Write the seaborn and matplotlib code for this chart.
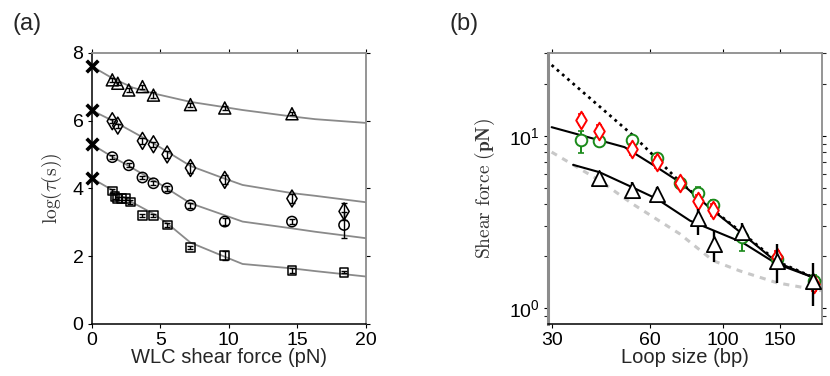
import numpy as np
import pandas as pd
import matplotlib
matplotlib.use("Agg")
import matplotlib.pyplot as plt
import seaborn as sns
from matplotlib.ticker import LogLocator, FixedLocator, NullFormatter, FixedFormatter, NullLocator

# ---------------- Panel (a) data ----------------
x0_y = [7.6, 6.3, 5.3, 4.3]

tri_x = [1.5, 1.9, 2.7, 3.7, 4.5, 7.2, 9.7, 14.6]
tri_y = [7.2, 7.1, 6.9, 7.0, 6.75, 6.47, 6.37, 6.2]
tri_e = [0.05, 0.05, 0.05, 0.06, 0.1, 0.06, 0.06, 0.05]

dia_x = [1.5, 1.9, 3.7, 4.5, 5.5, 7.2, 9.7, 14.6, 18.4]
dia_y = [5.98, 5.85, 5.4, 5.3, 5.0, 4.6, 4.25, 3.7, 3.32]
dia_e = [0.06, 0.06, 0.08, 0.08, 0.1, 0.15, 0.13, 0.13, 0.25]

cir_x = [1.5, 2.7, 3.7, 4.5, 5.5, 7.2, 9.7, 14.6, 18.4]
cir_y = [4.92, 4.68, 4.32, 4.15, 4.0, 3.5, 3.02, 3.02, 2.92]
cir_e = [0.05, 0.06, 0.05, 0.06, 0.07, 0.07, 0.1, 0.07, 0.37]

sq_x = [1.5, 1.7, 1.9, 2.2, 2.5, 2.8, 3.7, 4.5, 5.5, 7.2, 9.7, 14.6, 18.4]
sq_y = [3.92, 3.75, 3.7, 3.7, 3.7, 3.6, 3.2, 3.2, 2.92, 2.25, 2.02, 1.57, 1.52]
sq_e = [0.07, 0.07, 0.05, 0.05, 0.05, 0.05, 0.03, 0.04, 0.05, 0.05, 0.12, 0.07, 0.03]

tri_fit_x = [0, 1.5, 3, 4.5, 7.2, 9.6, 11, 14.6, 16.3, 20]
tri_fit_y = [7.6, 7.25, 6.97, 6.8, 6.55, 6.4, 6.31, 6.12, 6.04, 5.93]
dia_fit_x = [0, 1.5, 4.5, 7.2, 9.6, 11, 14.6, 16.3, 20]
dia_fit_y = [6.3, 6.0, 5.33, 4.66, 4.3, 4.1, 3.86, 3.78, 3.59]
cir_fit_x = [0, 1.5, 2.7, 5, 7.2, 9.6, 11, 14.6, 16.3, 20]
cir_fit_y = [5.3, 4.93, 4.66, 4.12, 3.56, 3.22, 3.02, 2.82, 2.72, 2.53]
sq_fit_x = [0, 1.5, 2.8, 4.5, 5.5, 7.2, 9.6, 11, 14.6, 16.3, 20]
sq_fit_y = [4.3, 3.95, 3.62, 3.25, 2.97, 2.4, 2.0, 1.77, 1.64, 1.56, 1.40]

a_xticks = [0, 5, 10, 15, 20]
a_yticks = [0, 2, 4, 6, 8]

# ---------------- Panel (b) data ----------------
g_x = [37.0, 41.8, 53.0, 62.9, 74.0, 84.0, 93.6, 115.0, 147.0, 190.0]
g_y = [9.48, 9.30, 9.38, 7.41, 5.30, 4.66, 3.94, 2.57, 1.92, 1.43]
g_lo = [1.6, 0.3, 0.3, 0.3, 0.3, 0.35, 0.3, 0.42, 0.15, 0.12]
g_hi = [1.1, 0.3, 0.3, 0.3, 0.3, 0.35, 0.3, 0.25, 0.15, 0.12]

r_x = [37.0, 41.8, 53.0, 62.9, 74.0, 84.0, 93.6, 147.0, 190.0]
r_y = [12.4, 10.7, 8.32, 7.02, 5.30, 4.20, 3.72, 1.98, 1.37]
r_e = [0.9, 0.8, 0.6, 0.5, 0.3, 0.3, 0.3, 0.15, 0.12]

t_x = [42.0, 52.9, 62.9, 84.3, 94.0, 115.0, 146.6, 189.7]
t_y = [5.66, 4.85, 4.59, 3.31, 2.35, 2.75, 1.88, 1.44]
t_lo = [0.53, 0.46, 0.49, 0.66, 0.49, 0.30, 0.48, 0.41]
t_hi = [0.49, 0.52, 0.43, 0.45, 0.46, 0.35, 0.47, 0.38]

dot_x = [30, 53.3, 62.9, 74, 93.6, 115, 147, 200]
dot_y = [25.7, 10.0, 7.35, 5.4, 3.7, 2.72, 1.86, 1.44]
up_x = [30, 50.1, 62.9, 74, 93.6, 115, 146.6, 190, 200]
up_y = [11.2, 8.58, 6.56, 5.37, 3.67, 2.69, 1.84, 1.50, 1.44]
lo_x = [34.9, 42, 52.9, 62.9, 79.5, 115, 146.6, 190, 200]
lo_y = [6.77, 6.14, 5.02, 4.30, 3.21, 2.40, 1.80, 1.50, 1.44]
gr_x = [30, 42, 53, 74, 93.6, 113, 146.6, 200]
gr_y = [8.03, 5.5, 4.02, 2.69, 1.88, 1.64, 1.40, 1.26]

b_xticks = [30, 60, 100, 150]

# ---------------- Style ----------------
sns.set_style("ticks")
plt.rcParams["font.family"] = ["Liberation Sans", "DejaVu Sans"]
plt.rcParams["mathtext.fontset"] = "cm"
plt.rcParams["xtick.labelsize"] = 14
plt.rcParams["ytick.labelsize"] = 14
plt.rcParams["xtick.direction"] = "out"
plt.rcParams["ytick.direction"] = "out"

fig = plt.figure(figsize=(8.3, 3.76), dpi=100)
axa = fig.add_axes([0.1105, 0.1383, 0.3305, 0.7215])
axb = fig.add_axes([0.660, 0.1383, 0.330, 0.7215])

GRAY_LINE = "#8a8a8a"

# ---- Panel (a) ----
for fx, fy in [(tri_fit_x, tri_fit_y), (dia_fit_x, dia_fit_y),
               (cir_fit_x, cir_fit_y), (sq_fit_x, sq_fit_y)]:
    sns.lineplot(x=fx, y=fy, ax=axa, color=GRAY_LINE, lw=1.3,
                 sort=False, estimator=None, zorder=1)

sns.scatterplot(x=[0.0] * len(x0_y), y=x0_y, ax=axa, marker="x", s=70,
                color="black", linewidth=2.6, zorder=4, clip_on=False)

series_a = [
    (tri_x, tri_y, tri_e, "^", 75),
    (dia_x, dia_y, dia_e, "d", 75),
    (cir_x, cir_y, cir_e, "o", 55),
    (sq_x, sq_y, sq_e, "s", 40),
]
for xs, ys, es, m, s in series_a:
    sns.scatterplot(x=xs, y=ys, ax=axa, marker=m, s=s, facecolor="none",
                    edgecolor="black", linewidth=1.1, zorder=3)
    axa.errorbar(xs, ys, yerr=es, fmt="none", ecolor="black", elinewidth=1.0,
                 capsize=2, capthick=1.0, zorder=4)

axa.set_xlim(0, 20)
axa.set_ylim(0, 8)
axa.set_xticks(a_xticks)
axa.set_yticks(a_yticks)
axa.tick_params(axis="both", which="major", length=3, width=0.8, pad=3,
                top=True, right=True, colors="black")
axa.tick_params(axis="x", labeltop=False)
axa.tick_params(axis="y", labelright=False)
axa.set_xlabel("WLC shear force (pN)", fontsize=14.5, labelpad=-1)
axa.set_ylabel(r"$\log(\tau(\mathrm{s}))$", fontsize=14, color="#333333", labelpad=6)
for side in ["left", "bottom"]:
    axa.spines[side].set_color("black")
    axa.spines[side].set_linewidth(1.1)
for side in ["top", "right"]:
    axa.spines[side].set_color("#8c8c8c")
    axa.spines[side].set_linewidth(1.3)
    axa.spines[side].set_visible(True)

# ---- Panel (b) ----
axb.set_xscale("log")
axb.set_yscale("log")

sns.lineplot(x=gr_x, y=gr_y, ax=axb, color="#c8c8c8", lw=2.2,
             linestyle=(0, (2, 2)), sort=False, estimator=None, zorder=1)
sns.lineplot(x=dot_x, y=dot_y, ax=axb, color="black", lw=2.0,
             linestyle=(0, (1, 1.5)), sort=False, estimator=None, zorder=2)
sns.lineplot(x=up_x, y=up_y, ax=axb, color="black", lw=1.5,
             sort=False, estimator=None, zorder=2)
sns.lineplot(x=lo_x, y=lo_y, ax=axb, color="black", lw=1.5,
             sort=False, estimator=None, zorder=2)

axb.errorbar(g_x, g_y, yerr=[g_lo, g_hi], fmt="none", ecolor="#1a8a1a",
             elinewidth=1.4, capsize=2, capthick=1.2, zorder=3)
sns.scatterplot(x=g_x, y=g_y, ax=axb, marker="o", s=70, facecolor="white",
                edgecolor="#1a8a1a", linewidth=1.4, zorder=4)
axb.errorbar(r_x, r_y, yerr=r_e, fmt="none", ecolor="#ff0000",
             elinewidth=1.4, capsize=2, capthick=1.2, zorder=5)
sns.scatterplot(x=r_x, y=r_y, ax=axb, marker="d", s=80, facecolor="white",
                edgecolor="#ff0000", linewidth=1.4, zorder=6)
axb.errorbar(t_x, t_y, yerr=[t_lo, t_hi], fmt="none", ecolor="black",
             elinewidth=1.7, capsize=0, zorder=7)
sns.scatterplot(x=t_x, y=t_y, ax=axb, marker="^", s=120, facecolor="white",
                edgecolor="black", linewidth=1.3, zorder=8)

axb.set_xlim(29.2, 201)
axb.set_ylim(0.807, 30.3)
axb.xaxis.set_major_locator(FixedLocator(b_xticks))
axb.xaxis.set_major_formatter(FixedFormatter([str(v) for v in b_xticks]))
axb.xaxis.set_minor_locator(NullLocator())
axb.yaxis.set_major_locator(LogLocator(base=10, numticks=10))
axb.yaxis.set_minor_locator(LogLocator(base=10, subs=np.arange(2, 10), numticks=20))
axb.yaxis.set_minor_formatter(NullFormatter())
axb.tick_params(axis="both", which="major", length=3, width=0.8, pad=3,
                top=True, right=True, colors="black")
axb.tick_params(axis="y", which="minor", length=3, width=0.8, left=True, right=True)
axb.tick_params(axis="x", labeltop=False)
axb.tick_params(axis="y", labelright=False)
axb.set_xlabel("Loop size (bp)", fontsize=14.5, labelpad=-1)
axb.set_ylabel(r"$\mathrm{Shear\ force\ }(\mathbf{pN})$", fontsize=14,
               color="#333333", labelpad=8)
axb.spines["left"].set_color("#8c8c8c")
axb.spines["left"].set_linewidth(2.2)
axb.spines["bottom"].set_color("black")
axb.spines["bottom"].set_linewidth(1.1)
for side in ["top", "right"]:
    axb.spines[side].set_color("#8c8c8c")
    axb.spines[side].set_linewidth(1.3)
    axb.spines[side].set_visible(True)

fig.text(0.015, 0.935, "(a)", fontsize=17, ha="left", va="center")
fig.text(0.542, 0.935, "(b)", fontsize=17, ha="left", va="center")

fig.savefig("out.png", dpi=100)
